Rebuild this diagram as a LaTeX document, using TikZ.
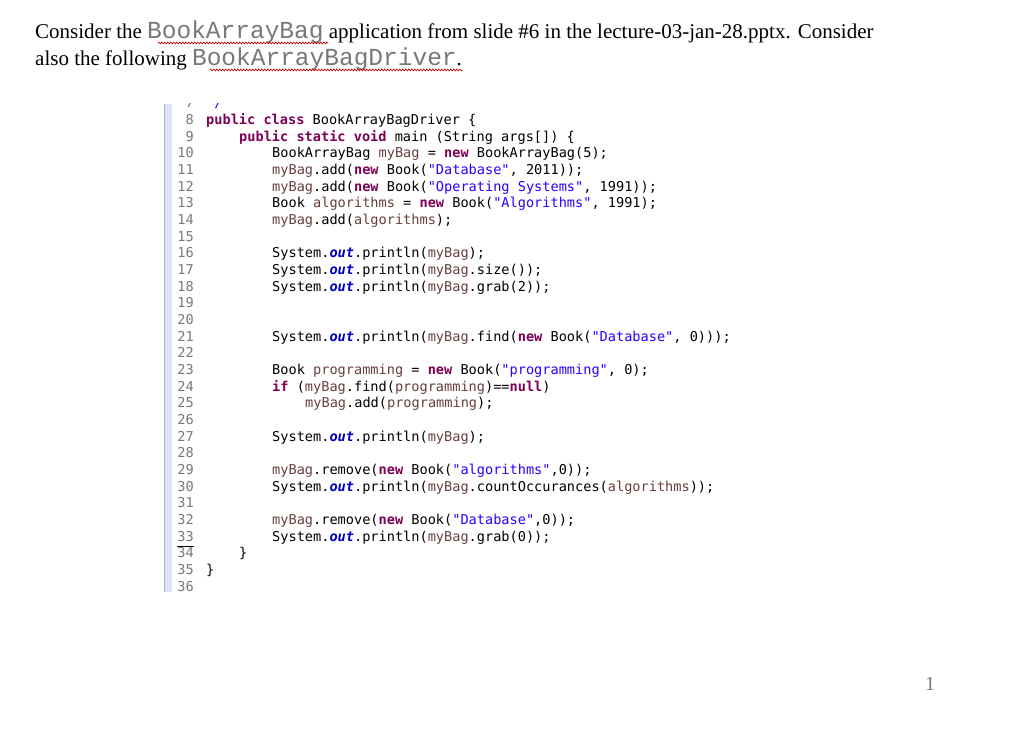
\documentclass[tikz,border=0pt]{standalone}
\usepackage{fontspec}
\setmainfont{Liberation Serif}
\setmonofont{DejaVu Sans Mono}
\newfontfamily\hdmono{Liberation Mono}
\usetikzlibrary{decorations.pathmorphing}
\definecolor{kw}{HTML}{7F0055}
\definecolor{st}{HTML}{2A00FF}
\definecolor{va}{HTML}{6A3E3E}
\definecolor{ou}{HTML}{0000C0}
\definecolor{ln}{HTML}{787878}
\newcommand{\kw}[1]{\textcolor{kw}{\bfseries #1}}
\newcommand{\st}[1]{\textcolor{st}{#1}}
\newcommand{\va}[1]{\textcolor{va}{#1}}
\newcommand{\ou}{\textcolor{ou}{\bfseries\itshape out}}
\tikzset{code/.style={anchor=base west,inner sep=0,font=\ttfamily\fontsize{13.6}{16}\selectfont},
 lnum/.style={anchor=base east,inner sep=0,text=ln,font=\ttfamily\fontsize{13.6}{16}\selectfont},
 hd/.style={anchor=base west,inner sep=0,font=\fontsize{21}{26}\selectfont}}
\begin{document}
\begin{tikzpicture}[x=1pt,y=-1pt]
\fill[white] (0,0) rectangle (1024,733);
\node[hd] (h1) at (35,39) {Consider the \textcolor{ln}{\hdmono\fontsize{24.5}{26}\selectfont BookArrayBag} application from slide \#6 in the lecture-03-jan-28.pptx. Consider};
\node[hd] (h2) at (35,66) {also the following \textcolor{ln}{\hdmono\fontsize{24.5}{26}\selectfont BookArrayBagDriver}.};
\draw[red!80!black,line width=0.6pt,decorate,decoration={zigzag,segment length=3pt,amplitude=1pt}] (158,43) -- (328,43);
\draw[red!80!black,line width=0.6pt,decorate,decoration={zigzag,segment length=3pt,amplitude=1pt}] (210,70) -- (462,70);
\begin{scope}
\clip (150,104) rectangle (800,592);
\fill[blue!12] (165,104) rectangle (172,592);
\draw[gray!60,line width=0.8pt] (164,104) -- (164,592);
\foreach \n/\t/\ind in {
7/{\textcolor{st}{*/}}/0,
8/{\kw{public} \kw{class} BookArrayBagDriver \{}/0,
9/{\kw{public} \kw{static} \kw{void} main (String args[]) \{}/1,
10/{BookArrayBag \va{myBag} = \kw{new} BookArrayBag(5);}/2,
11/{\va{myBag}.add(\kw{new} Book(\st{"Database"}, 2011));}/2,
12/{\va{myBag}.add(\kw{new} Book(\st{"Operating Systems"}, 1991));}/2,
13/{Book \va{algorithms} = \kw{new} Book(\st{"Algorithms"}, 1991);}/2,
14/{\va{myBag}.add(\va{algorithms});}/2,
15/{}/2,
16/{System.\ou.println(\va{myBag});}/2,
17/{System.\ou.println(\va{myBag}.size());}/2,
18/{System.\ou.println(\va{myBag}.grab(2));}/2,
19/{}/2,
20/{}/2,
21/{System.\ou.println(\va{myBag}.find(\kw{new} Book(\st{"Database"}, 0)));}/2,
22/{}/2,
23/{Book \va{programming} = \kw{new} Book(\st{"programming"}, 0);}/2,
24/{\kw{if} (\va{myBag}.find(\va{programming})==\kw{null})}/2,
25/{\va{myBag}.add(\va{programming});}/3,
26/{}/2,
27/{System.\ou.println(\va{myBag});}/2,
28/{}/2,
29/{\va{myBag}.remove(\kw{new} Book(\st{"algorithms"},0));}/2,
30/{System.\ou.println(\va{myBag}.countOccurances(\va{algorithms}));}/2,
31/{}/2,
32/{\va{myBag}.remove(\kw{new} Book(\st{"Database"},0));}/2,
33/{System.\ou.println(\va{myBag}.grab(0));}/2,
34/{\}}/1,
35/{\}}/0,
36/{}/0}{
  \pgfmathsetmacro\yy{124.5+(\n-8)*16.67}
  \pgfmathsetmacro\xx{206+\ind*33}
  \node[lnum] (n\n) at (194,\yy) {\n};
  \node[code] (c\n) at (\xx,\yy) {\t};
}
\draw[black,line width=0.8pt] (177,546.5) -- (194,546.5);
\end{scope}
\node[anchor=base,inner sep=0,text=ln,font=\fontsize{20}{24}\selectfont] (pg) at (930,690) {1};
\end{tikzpicture}
\end{document}
